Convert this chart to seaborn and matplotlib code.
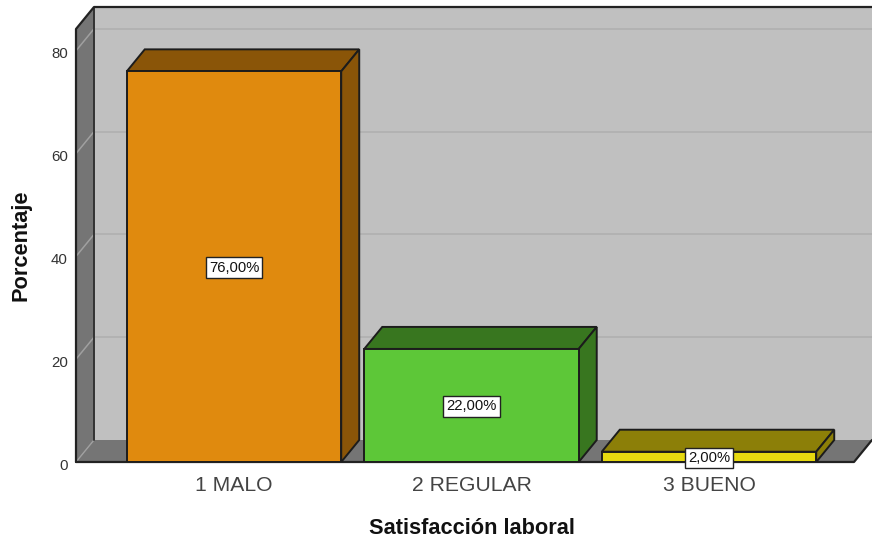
import matplotlib
matplotlib.use("Agg")
import matplotlib.pyplot as plt
import matplotlib.transforms as mtrans
import pandas as pd
import seaborn as sns

categories = ["1 MALO", "2 REGULAR", "3 BUENO"]
percentages = [76, 22, 2]
value_labels = ["76,00%", "22,00%", "2,00%"]
y_ticks = [0, 20, 40, 60, 80]

front_colors = ["#E08A0E", "#5DC738", "#E6D90F"]
top_colors = ["#8A5508", "#38761F", "#8C7F08"]
EDGE = "#1c1c1c"

W, H = 872, 540
LEFT, RIGHT, TOP, BOTTOM = 76, 872, 7, 462
PX_PER_UNIT = 5.14
PX_PER_CAT = 237.5
DEPTH_X = 18 / PX_PER_CAT
DEPTH_Y = 22 / PX_PER_UNIT

sns.set_style("white")
plt.rcParams["font.family"] = ["Liberation Sans", "DejaVu Sans"]

fig = plt.figure(figsize=(W / 100, H / 100), dpi=100)
ax = fig.add_axes([LEFT / W, 1 - BOTTOM / H, (RIGHT - LEFT) / W, (BOTTOM - TOP) / H])

df = pd.DataFrame({"cat": categories, "pct": percentages})
sns.barplot(
    df, ax=ax, x="cat", y="pct", hue="cat", palette=front_colors, legend=False,
    width=0.903, edgecolor=EDGE, linewidth=1.4, zorder=4, saturation=1,
)

x0 = (LEFT - 234) / PX_PER_CAT
x1 = (RIGHT - 234) / PX_PER_CAT
y1 = (BOTTOM - TOP) / PX_PER_UNIT
ax.set_xlim(x0, x1)
ax.set_ylim(0, y1)
ax.set_facecolor("none")

# back wall, grid, left wall and floor
ax.fill([x0 + DEPTH_X, x1, x1, x0 + DEPTH_X], [DEPTH_Y, DEPTH_Y, y1, y1],
        color="#C0C0C0", lw=0, zorder=0.5)
for v in y_ticks[1:]:
    ax.plot([x0 + DEPTH_X, x1], [v + DEPTH_Y] * 2, color="#B2B2B2", lw=1.4, zorder=1)
    ax.plot([x0, x0 + DEPTH_X], [v, v + DEPTH_Y], color="#A0A0A0", lw=1.1, zorder=2.5)

ax.fill([x0, x0 + DEPTH_X, x0 + DEPTH_X, x0],
        [0, DEPTH_Y, y1, y1 - DEPTH_Y], color="#757575", lw=0, zorder=2)
ax.fill([x0, x0 + DEPTH_X, x1, x1 - DEPTH_X],
        [0, DEPTH_Y, DEPTH_Y, 0], color="#757575", lw=0, zorder=2)
ax.plot([x0, x0 + DEPTH_X], [0, DEPTH_Y], color="#A0A0A0", lw=1, zorder=2.5)
ax.plot([x0 + DEPTH_X] * 2, [DEPTH_Y, y1], color="#333333", lw=1.4, zorder=2.6)
ax.plot([x0, x0, x0 + DEPTH_X, x1], [0, y1 - DEPTH_Y, y1, y1], color="#222222",
        lw=1.6, zorder=2.6, clip_on=False)
ax.plot([x0, x1 - DEPTH_X, x1], [0, 0, DEPTH_Y], color="#222222", lw=1.6, zorder=2.6,
        clip_on=False)

# the 3D faces of each bar come from the bars seaborn drew
bars = [p for p in ax.patches if p.get_zorder() == 4]
for bar, top_c, label in zip(bars, top_colors, value_labels):
    a, b, v = bar.get_x(), bar.get_x() + bar.get_width(), bar.get_height()
    ax.fill([a, a + DEPTH_X, b + DEPTH_X, b], [v, v + DEPTH_Y, v + DEPTH_Y, v],
            facecolor=top_c, edgecolor=EDGE, lw=1.4, zorder=3)
    ax.fill([b, b + DEPTH_X, b + DEPTH_X, b], [0, DEPTH_Y, v + DEPTH_Y, v],
            facecolor=top_c, edgecolor=EDGE, lw=1.4, zorder=3)
    ax.text((a + b) / 2, v / 2 - 0.2, label, ha="center", va="center", fontsize=10.6, color="#111111",
            zorder=6, bbox=dict(boxstyle="square,pad=0.22", fc="white", ec="#222222", lw=1))

ax.set_yticks(y_ticks)
ax.set_xticks(range(len(categories)), categories)
ax.tick_params(axis="y", length=0, pad=6, labelsize=10.8, labelcolor="#333333")
ax.tick_params(axis="x", length=0, pad=10, labelsize=15.2, labelcolor="#444444")
shift = mtrans.ScaledTranslation(0, -2 / 100, fig.dpi_scale_trans)
for tick_label in ax.get_yticklabels():
    tick_label.set_transform(tick_label.get_transform() + shift)
sns.despine(ax=ax, left=True, bottom=True)

ax.set_xlabel("")
ax.set_ylabel("")
fig.text(471.5 / W, 1 - 528 / H, "Satisfacción laboral", ha="center", va="center",
         fontsize=15.7, fontweight="bold", color="#111111")
fig.text(21 / W, 1 - 245 / H, "Porcentaje", ha="center", va="center", rotation=90,
         fontsize=15.7, fontweight="bold", color="#111111")

fig.savefig("out.png", dpi=100)
